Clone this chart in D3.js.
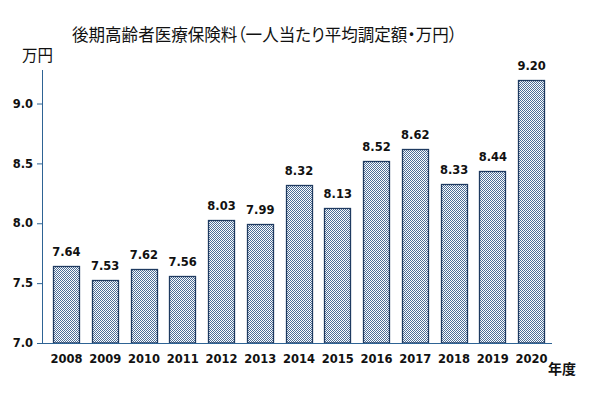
<!DOCTYPE html>
<html>
<head>
<meta charset="utf-8">
<script src="https://cdn.jsdelivr.net/npm/d3@7"></script>
<style>
  body { margin: 0; background: #fff; }
  svg { display: block; }
  .num { font-family: "DejaVu Sans", Verdana, sans-serif; font-weight: bold; font-size: 11.5px; fill: #111; }
  .jp { font-family: "Noto Sans CJK JP", sans-serif; fill: #111; font-feature-settings: "palt"; }
</style>
</head>
<body>
<svg width="605" height="398"></svg>
<script>
// fiscal years and average premium (10,000 yen)
var years = ["2008", "2009", "2010", "2011", "2012", "2013", "2014",
             "2015", "2016", "2017", "2018", "2019", "2020"];
var premiums = [7.64, 7.53, 7.62, 7.56, 8.03, 7.99, 8.32,
                8.13, 8.52, 8.62, 8.33, 8.44, 9.20];
var yTicks = [7.0, 7.5, 8.0, 8.5, 9.0];

(function () {
  var svg = d3.select("svg"),
      plotLeft = 42, plotRight = 552, plotTop = 70, plotBottom = 343;

  var axisColor = "#2e6394",
      barColor = "#1f3a60",
      dotColor = "#4d6f98";

  // small checkerboard fill, like the Excel pattern
  var pat = svg.append("defs").append("pattern")
      .attr("id", "checker")
      .attr("width", 2).attr("height", 2)
      .attr("patternUnits", "userSpaceOnUse");
  pat.append("rect").attr("width", 2).attr("height", 2).attr("fill", "#fff");
  pat.append("rect").attr("width", 1).attr("height", 1).attr("fill", dotColor);
  pat.append("rect").attr("x", 1).attr("y", 1).attr("width", 1).attr("height", 1).attr("fill", dotColor);

  // bands sit a little right of the axis start, as in the original
  var x = d3.scaleBand()
      .domain(years)
      .range([plotLeft + 5, plotRight - 1])
      .paddingInner(0.31)
      .paddingOuter(0.155);

  var y = d3.scaleLinear()
      .domain([7.0, 9.28])
      .range([plotBottom, plotTop]);

  var data = years.map(function(d, i) { return { year: d, value: premiums[i] }; });

  // bars
  svg.append("g").selectAll("rect")
      .data(data)
    .enter().append("rect")
      .attr("x", function(d) { return Math.round(x(d.year)) + 0.5; })
      .attr("y", function(d) { return Math.round(y(d.value)) + 0.5; })
      .attr("width", Math.round(x.bandwidth()) - 1)
      .attr("height", function(d) { return plotBottom - Math.round(y(d.value)) - 0.5; })
      .attr("fill", "url(#checker)")
      .attr("stroke", barColor)
      .attr("stroke-width", 1.3);

  // value labels
  svg.append("g").selectAll("text")
      .data(data)
    .enter().append("text")
      .attr("class", "num")
      .attr("x", function(d) { return x(d.year) + x.bandwidth() / 2; })
      .attr("y", function(d) { return y(d.value) - 10; })
      .attr("text-anchor", "middle")
      .text(function(d) { return d.value.toFixed(2); });

  // y axis
  var yAxis = svg.append("g")
      .attr("transform", "translate(" + plotLeft + ",0)")
      .call(d3.axisLeft(y).tickValues(yTicks).tickSize(5).tickPadding(4)
            .tickFormat(d3.format(".1f")));
  yAxis.select(".domain").attr("stroke", axisColor).attr("d", "M0.5," + plotTop + "V" + plotBottom);
  yAxis.selectAll(".tick line").attr("stroke", axisColor);
  yAxis.selectAll(".tick text").attr("class", "num").attr("font-family", null).attr("font-size", null);

  // x axis
  var xAxis = svg.append("g")
      .attr("transform", "translate(0," + plotBottom + ")")
      .call(d3.axisBottom(x).tickSize(0).tickPadding(12));
  xAxis.select(".domain").attr("stroke", axisColor).attr("d", "M" + plotLeft + ",0.5H" + plotRight);
  xAxis.selectAll(".tick text").attr("class", "num").attr("font-family", null).attr("font-size", null);

  // title and unit labels
  svg.append("text")
      .attr("class", "jp")
      .attr("x", 72).attr("y", 41)
      .attr("font-size", 17.5)
      .attr("textLength", 385)
      .attr("lengthAdjust", "spacingAndGlyphs")
      .text("後期高齢者医療保険料（一人当たり平均調定額・万円）");

  svg.append("text")
      .attr("class", "jp")
      .attr("x", 22).attr("y", 61)
      .attr("font-size", 15.5)
      .text("万円");

  svg.append("text")
      .attr("class", "jp")
      .attr("x", 548).attr("y", 374)
      .attr("font-size", 14)
      .attr("font-weight", "bold")
      .text("年度");
})();
</script>
</body>
</html>
